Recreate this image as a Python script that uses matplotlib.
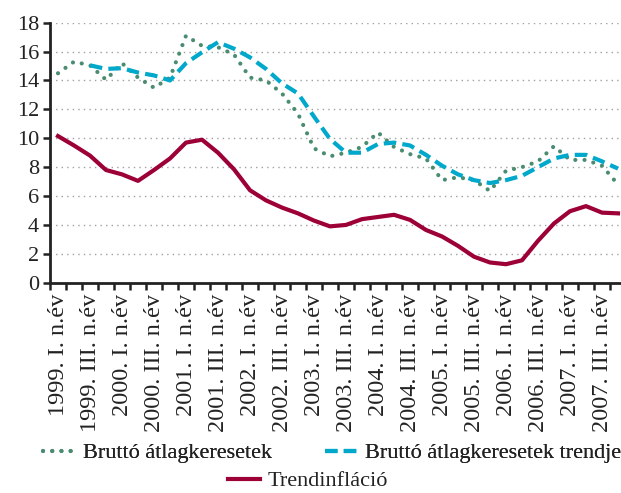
import numpy as np
import matplotlib
matplotlib.use("Agg")
import matplotlib.pyplot as plt
from matplotlib.lines import Line2D
import matplotlib.transforms as mtransforms

plt.rcParams['font.family'] = ['Liberation Serif', 'DejaVu Serif']

quarters = ["I.", "II.", "III.", "IV."]
years = list(range(1999, 2008))
categories = [f"{y}. {q} n.év" for y in years for q in quarters]
tick_labels = [c if i % 2 == 0 else "" for i, c in enumerate(categories)]

brutto = [14.5, 15.3, 15.05, 14.05, 15.2, 14.2, 13.5, 14.2, 17.1, 16.4, 16.3, 15.8,
          14.2, 14.0, 13.1, 11.7, 9.3, 8.75, 9.0, 9.4, 10.4, 9.4, 8.9, 8.6,
          7.1, 7.3, 7.1, 6.35, 7.75, 8.0, 8.4, 9.45, 8.5, 8.5, 8.1, 6.8]
brutto_trend = [np.nan, np.nan, 15.05, 14.8, 14.85, 14.55, 14.35, 14.0, 15.2, 15.95, 16.65, 16.2,
                15.6, 14.8, 13.8, 13.1, 11.5, 9.95, 9.0, 9.0, 9.6, 9.7, 9.5, 8.85,
                8.1, 7.5, 7.1, 6.9, 7.1, 7.4, 8.0, 8.6, 8.85, 8.85, 8.4, 7.9]
trendinfl = [10.15, 9.5, 8.8, 7.8, 7.5, 7.05, 7.8, 8.6, 9.7, 9.9, 9.0, 7.85,
             6.4, 5.7, 5.2, 4.8, 4.3, 3.9, 4.0, 4.4, 4.55, 4.7, 4.35, 3.65,
             3.2, 2.55, 1.8, 1.4, 1.28, 1.55, 2.9, 4.1, 4.95, 5.3, 4.85, 4.8]

c_green = "#4a8c6f"
c_cyan = "#00a8cc"
c_red = "#9c0036"
FS = 16
FSX = 17.5

W, H = 621, 493
fig = plt.figure(figsize=(W / 100, H / 100), dpi=100)
x0, x1 = 50, 626
ytop, ybot = 22.7, 282.7
ax = fig.add_axes([x0 / W, 1 - ybot / H, (x1 - x0) / W, (ybot - ytop) / H])

x = np.arange(len(categories))
ax.plot(x, brutto, color=c_green, lw=3.0, linestyle=(0, (0.01, 2.2)),
        dash_capstyle='round', solid_capstyle='round', zorder=3)
ax.plot(x, brutto_trend, color=c_cyan, lw=3.0, linestyle=(0, (3.0, 1.5)),
        dash_capstyle='butt', zorder=4)
ax.plot(x, trendinfl, color=c_red, lw=3.0, zorder=5)

ax.set_xlim(-0.5, len(categories) - 0.5)
ax.set_ylim(0, 18)
ax.set_yticks(np.arange(0, 19, 2))
for v in np.arange(2, 19, 2):
    ax.axhline(v, color="#a0a0a0", lw=1.0, linestyle=(0, (1, 3)), zorder=1)

ax.set_xticks(x)
ax.set_xticklabels(tick_labels, rotation=90, fontsize=FSX, color="#222222")
offset = mtransforms.ScaledTranslation(-3 / 100, 0, fig.dpi_scale_trans)
for lbl in ax.get_xticklabels():
    lbl.set_transform(lbl.get_transform() + offset)
ax.set_xticks(np.arange(-0.5, len(categories), 1), minor=True)
ax.tick_params(axis='x', which='major', length=0, pad=8)
ax.tick_params(axis='x', which='minor', length=5, width=1.8, direction='out', color="#222222")
ax.tick_params(axis='y', length=5, width=1.8, direction='out', pad=3, labelsize=FS,
               color="#222222", labelcolor="#222222")

for s in ['top', 'right']:
    ax.spines[s].set_visible(False)
for s in ['left', 'bottom']:
    ax.spines[s].set_linewidth(2.0)
    ax.spines[s].set_color("#222222")

h1 = Line2D([], [], color=c_green, lw=3.0, linestyle=(0, (0.01, 2.2)), dash_capstyle='round')
h2 = Line2D([], [], color=c_cyan, lw=3.0, linestyle=(0, (3.0, 1.5)))
h3 = Line2D([], [], color=c_red, lw=3.0)

leg1 = fig.legend([h1, h2], ["Bruttó átlagkeresetek", "Bruttó átlagkeresetek trendje"],
                  loc='center', bbox_to_anchor=(332 / W, 1 - 453 / H), ncol=2, frameon=False,
                  fontsize=FS, handlelength=1.45, handletextpad=0.35, columnspacing=2.4,
                  borderpad=0, borderaxespad=0)
fig.add_artist(leg1)
leg2 = fig.legend([h3], ["Trendinfláció"], loc='center', bbox_to_anchor=(308 / W, 1 - 481 / H),
                  frameon=False, fontsize=FS, handlelength=1.45, handletextpad=0.35,
                  borderpad=0, borderaxespad=0)
for lg in (leg1, leg2):
    for t in lg.get_texts():
        t.set_color("#222222")

fig.savefig("out.png", dpi=100)
